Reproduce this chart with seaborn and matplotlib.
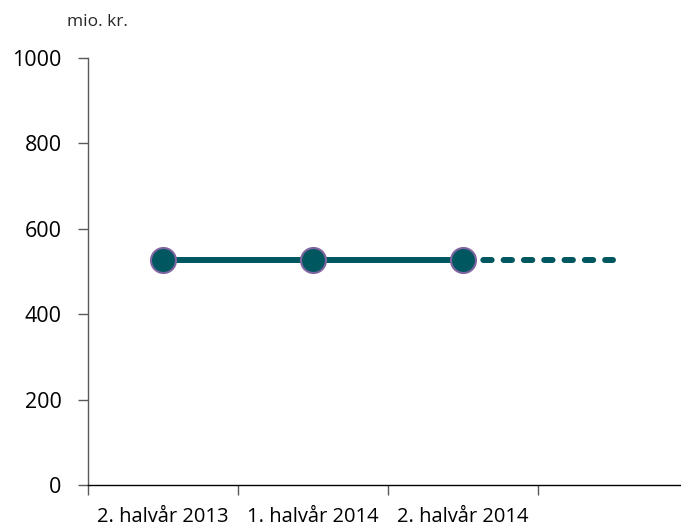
import numpy as np
import pandas as pd
import matplotlib
matplotlib.use("Agg")
import matplotlib.pyplot as plt
import seaborn as sns

# data
periods = ["2. halvår 2013", "1. halvår 2014", "2. halvår 2014", ""]
actual = [528, 528, 528, np.nan]
projection = [np.nan, np.nan, 528, 528]

sns.set_style("white")
plt.rcParams["font.family"] = ["Open Sans", "DejaVu Sans"]

df = pd.DataFrame({"x": np.arange(len(periods)), "actual": actual, "projection": projection})

fig = plt.figure(figsize=(6.81, 5.29), dpi=100)
ax = fig.add_axes([88 / 681, 1 - 485 / 529, 600 / 681, (485 - 58) / 529])

teal = "#00575F"
sns.lineplot(data=df, x="x", y="projection", ax=ax, color=teal, linewidth=4.3,
             dashes=False, linestyle=(0, (1.4, 2.0)), dash_capstyle="round")
sns.lineplot(data=df, x="x", y="actual", ax=ax, color=teal, linewidth=4.3,
             marker="o", markersize=18, markerfacecolor=teal,
             markeredgecolor="#8064A2", markeredgewidth=1.5)

ax.set_xlim(-0.5, len(periods) - 0.5)
ax.set_ylim(0, 1000)
ax.set_yticks(range(0, 1001, 200))
ax.set_xticks(np.arange(len(periods)))
ax.set_xticklabels(periods)
ax.set_xticks(np.arange(len(periods) + 1) - 0.5, minor=True)
ax.tick_params(axis="x", which="major", length=0, pad=16, labelsize=14.5, labelcolor="#000000")
ax.tick_params(axis="x", which="minor", length=7, width=1, color="#595959", direction="out", bottom=True)
ax.tick_params(axis="y", length=7, width=1, color="#595959", direction="out", left=True,
               pad=12, labelsize=15.5, labelcolor="#000000")
ax.set_xlabel("")
ax.set_ylabel("")

for s in ["top", "right"]:
    ax.spines[s].set_visible(False)
ax.spines["left"].set_color("#595959")
ax.spines["bottom"].set_color("#000000")
ax.spines["left"].set_linewidth(1)
ax.spines["bottom"].set_linewidth(1)

fig.text(97 / 681, 1 - 22 / 529, "mio. kr.", ha="center", va="center", fontsize=12.5)

plt.savefig("out.png", dpi=100)
